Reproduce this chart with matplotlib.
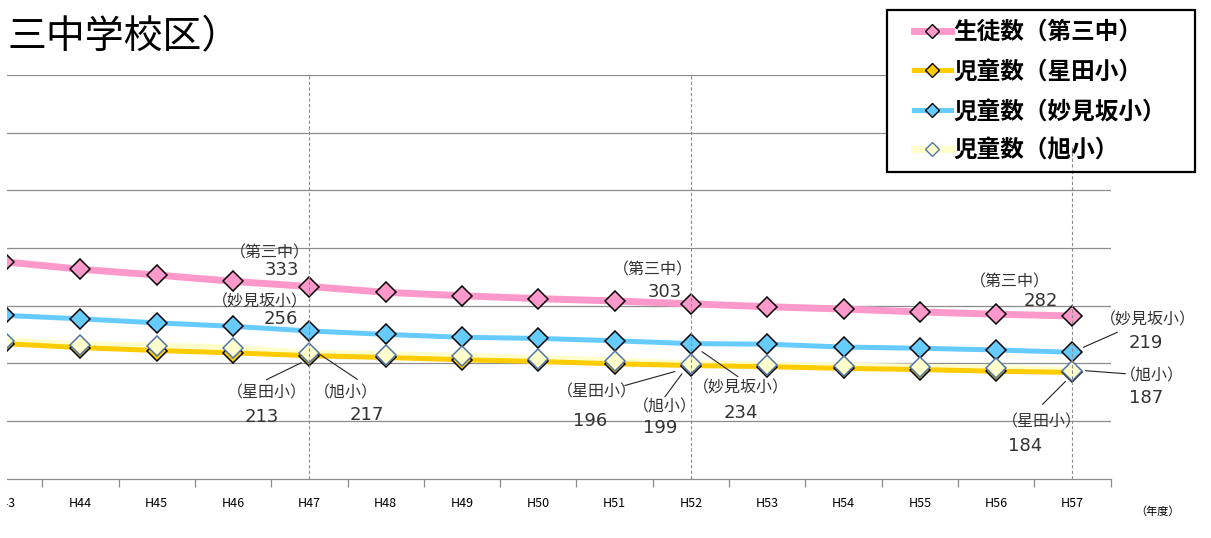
import matplotlib
matplotlib.use('Agg')
import matplotlib.pyplot as plt
from matplotlib.lines import Line2D
from matplotlib.patches import Rectangle
from matplotlib.transforms import offset_copy

plt.rcParams['font.family'] = ['Noto Sans CJK JP', 'DejaVu Sans']

# data
years = ['H43', 'H44', 'H45', 'H46', 'H47', 'H48', 'H49', 'H50',
         'H51', 'H52', 'H53', 'H54', 'H55', 'H56', 'H57']
daisan = [376, 363, 353, 342, 333, 323, 317, 312, 308, 303, 298, 294, 289, 285, 282]
hoshida = [234, 227, 222, 218, 213, 210, 206, 203, 199, 196, 194, 191, 189, 186, 184]
myokenzaka = [283, 277, 270, 264, 256, 250, 245, 243, 239, 234, 233, 228, 226, 223, 219]
asahi = [239, 232, 230, 226, 217, 215, 212, 208, 204, 199, 197, 195, 193, 191, 187]
names = ['生徒数（第三中）', '児童数（星田小）', '児童数（妙見坂小）', '児童数（旭小）']
short = ['（第三中）', '（星田小）', '（妙見坂小）', '（旭小）']
marked_years = ['H47', 'H52', 'H57']

W, H = 1211, 538
fig = plt.figure(figsize=(W / 100, H / 100), dpi=100)
ax = fig.add_axes([-34 / W, 59.5 / H, 1144.6 / W, 403.5 / H])
x = list(range(len(years)))
ax.set_xlim(-0.5, len(years) - 0.5)
ax.set_ylim(0, 700)

# name, values, line colour, line width, marker face, marker edge, line z, marker z
styles = [
    (names[0], daisan, '#FF99CC', 5.0, '#FF99CC', 'black', 2.3, 3.0),
    (names[1], hoshida, '#FFCC00', 3.6, '#FFCC00', 'black', 2.2, 3.1),
    (names[2], myokenzaka, '#66CCFF', 3.6, '#66CCFF', 'black', 2.1, 3.2),
    (names[3], asahi, '#FFFFCC', 5.0, '#FFFFCC', '#4F75AD', 2.0, 3.3),
]
handles = []
for name, vals, lc, lw, mfc, mec, lz, mz in styles:
    ax.plot(x, vals, color=lc, lw=lw, zorder=lz, solid_capstyle='butt')
    ax.plot(x, vals, ls='none', marker='D', ms=10, mfc=mfc, mec=mec, mew=1.1, zorder=mz)
    handles.append(Line2D([], [], color=lc, lw=lw, marker='D', ms=7,
                          mfc=mfc, mec=mec, mew=1.0))

# dashed year markers
for yr in marked_years:
    i = years.index(yr)
    ax.vlines(i, 0, 700, colors='#8C8C8C', lw=0.8, linestyles=(0, (3, 2)), zorder=6)

# grid / axes
ax.set_yticks(range(100, 701, 100))
ax.yaxis.grid(True, color='#8C8C8C', lw=0.9)
ax.set_axisbelow(True)
ax.tick_params(axis='y', length=0, labelleft=False)
for s in ['top', 'right', 'left']:
    ax.spines[s].set_visible(False)
ax.spines['bottom'].set_color('#8C8C8C')
ax.spines['bottom'].set_linewidth(0.9)
ax.set_xticks(x)
ax.set_xticklabels(years, fontsize=9)
ax.set_xticks([i - 0.5 for i in range(len(years) + 1)], minor=True)
ax.tick_params(axis='x', which='major', length=0, pad=13)
ax.tick_params(axis='x', which='minor', length=6, color='#8C8C8C', width=0.9)

# labels: series index, year index, name offset, number offset, leader start, leader end (pixels)
series_vals = [daisan, hoshida, myokenzaka, asahi]
labels = [
    (0, 4, (-39, 34), (-27, 17), None, None),
    (2, 4, (-49, 29), (-29, 12), None, None),
    (1, 4, (-42, -37), (-48, -61), (-8, -7), (-43, -24)),
    (3, 4, (37, -40), (57, -62), (9, 0), (48, -26)),
    (0, 9, (-38, 34), (-26, 12), None, None),
    (1, 9, (-94, -26), (-101, -55), (-16, -6), (-66, -20)),
    (3, 9, (-26, -43), (-31, -64), (-9, -10), (-26, -33)),
    (2, 9, (50, -44), (50, -69), (11, -8), (47, -33)),
    (0, 14, (-63, 34), (-32, 15), None, None),
    (2, 14, (75, 32), (73, 9), (11, 5), (45, 20)),
    (3, 14, (79, -5), (74, -27), (13, 0), (53, -3)),
    (1, 14, (-31, -50), (-47, -74), (-7, -9), (-30, -32)),
]
for si, i, noff, voff, ls, le in labels:
    v = series_vals[si][i]
    ax.annotate(short[si], xy=(i, v), xytext=noff, textcoords='offset pixels',
                ha='center', va='center', fontsize=11.5, color='#333333', zorder=7)
    ax.annotate(str(v), xy=(i, v), xytext=voff, textcoords='offset pixels',
                ha='center', va='center', fontsize=13, color='#333333',
                family='DejaVu Sans', zorder=7)
    if ls is not None:
        ax.annotate('', xy=(i, v),
                    xycoords=offset_copy(ax.transData, fig=fig, x=ls[0], y=ls[1], units='dots'),
                    xytext=(i, v),
                    textcoords=offset_copy(ax.transData, fig=fig, x=le[0], y=le[1], units='dots'),
                    arrowprops=dict(arrowstyle='-', color='#222222', lw=0.8,
                                    shrinkA=0, shrinkB=0))

# legend: drawn frame box, entries on top
fig.add_artist(Rectangle((887 / W, 1 - 172 / H), 308 / W, 162 / H, transform=fig.transFigure,
                         facecolor='white', edgecolor='black', lw=1.6, zorder=1.5))
fig.add_artist(Line2D([14, 14], [575, 535], transform=ax.transData, color='#8C8C8C',
                      lw=0.8, ls=(0, (3, 2)), zorder=1.6))
leg = fig.legend(handles, names, loc='upper left',
                 bbox_to_anchor=(914 / W, 1 - 20 / H),
                 prop={'size': 17, 'weight': 'bold'}, handlelength=1.55,
                 handletextpad=0.1, labelspacing=0.66, borderpad=0,
                 borderaxespad=0, frameon=False)
leg.set_zorder(2)

fig.text(7 / W, 1 - 37 / H, '三中学校区）', fontsize=28, ha='left', va='center')
fig.text(1158 / W, 1 - 512 / H, '（年度）', fontsize=8, ha='center', va='center')

fig.add_artist(Rectangle((0, 0), 7 / W, 1, transform=fig.transFigure,
                         facecolor='white', edgecolor='none', zorder=10))

fig.savefig('out.png', dpi=100)
